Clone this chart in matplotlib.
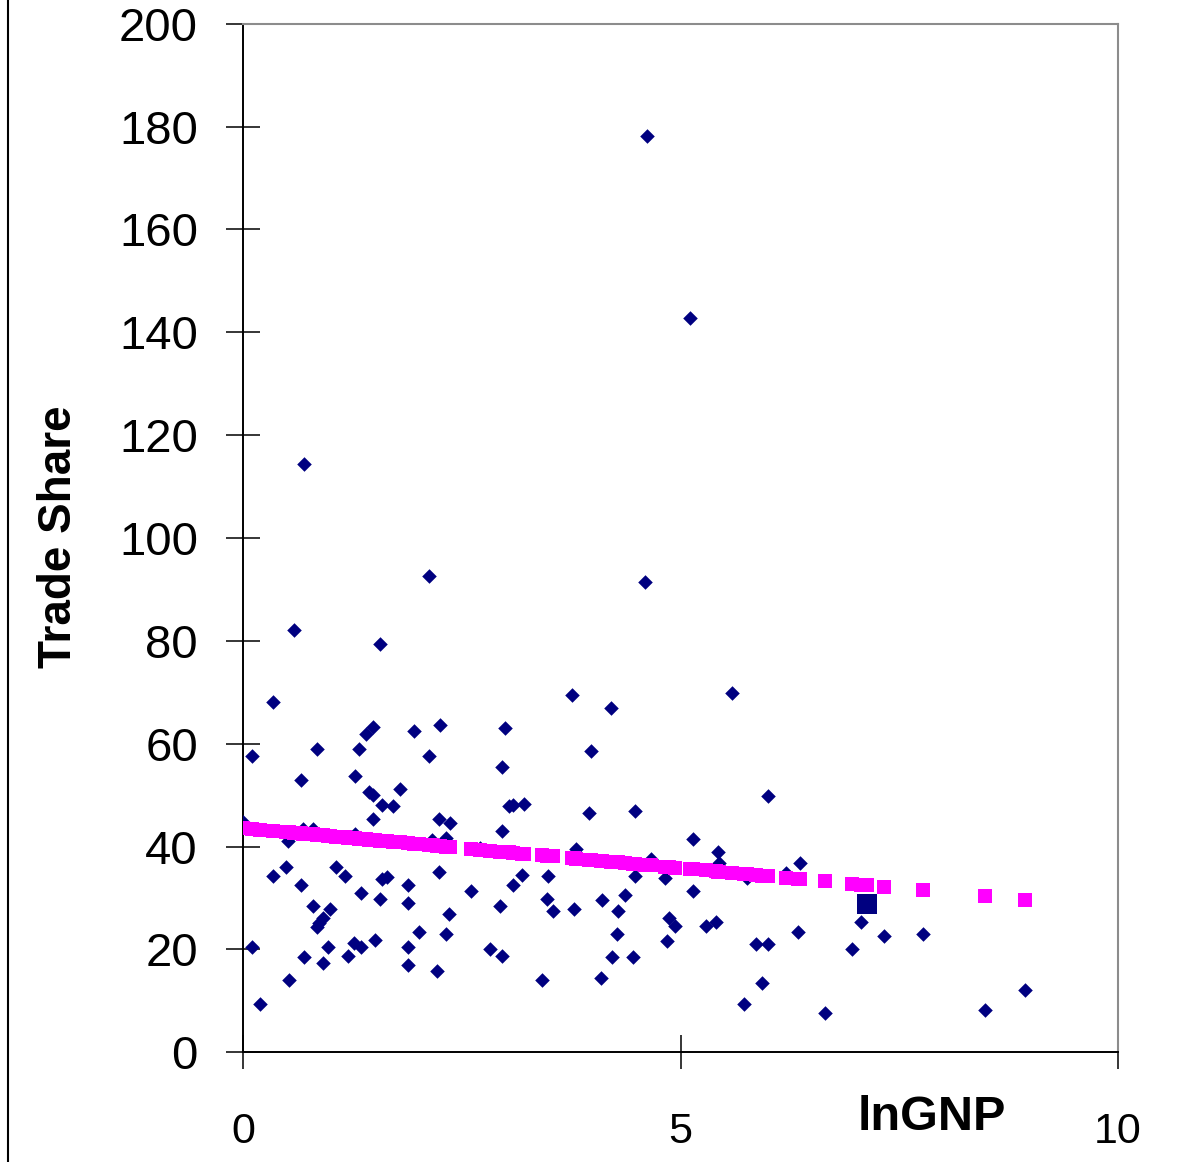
import numpy as np
import matplotlib
matplotlib.use("Agg")
import matplotlib.pyplot as plt
from matplotlib.lines import Line2D


# ====================================
# Data
# ====================================

ln_gnp = [
    0.34, 0.10, 0.84, 1.48, 1.41, 1.95, 2.25, 1.33, 2.12, 0.66,
    1.28, 1.44, 1.48, 1.79, 1.59, 1.71, 0.00, 1.48, 2.24, 2.36,
    0.69, 0.80, 1.28, 2.32, 2.16, 0.51, 0.34, 0.49, 0.66, 1.06,
    1.16, 2.24, 1.59, 1.65, 1.88, 1.35, 1.57, 1.88, 2.60, 0.80,
    0.99, 0.91, 0.84, 0.87, 2.35, 2.01, 2.32, 0.10, 0.97, 1.27,
    1.35, 1.51, 1.88, 0.70, 0.91, 1.20, 1.88, 2.22, 0.53, 0.19,
    3.76, 4.20, 2.99, 2.96, 3.98, 3.04, 3.09, 3.21, 3.95, 4.48,
    2.96, 5.14, 3.81, 2.71, 4.66, 3.19, 3.09, 3.49, 4.48, 4.82,
    5.14, 2.94, 3.47, 3.54, 3.78, 4.10, 4.37, 4.29, 4.87, 4.94,
    5.29, 4.27, 4.84, 2.82, 2.96, 4.22, 4.46, 3.42, 4.09, 5.59,
    6.00, 5.43, 5.44, 6.36, 5.76, 6.20, 5.40, 5.86, 6.00, 6.34,
    7.06, 7.33, 7.77, 6.96, 5.93, 5.72, 6.65, 8.94, 8.48, 0.70,
    2.12, 4.59, 0.58, 1.57, 4.62, 5.11
]

trade_share = [
    68.1, 57.6, 59.0, 63.3, 61.8, 62.4, 63.6, 59.0, 57.6, 53.0,
    53.7, 50.7, 50.0, 51.2, 48.0, 47.8, 44.8, 45.4, 45.4, 44.6,
    43.4, 43.4, 42.4, 41.7, 41.3, 41.1, 34.3, 36.0, 32.5, 36.0,
    34.3, 35.1, 33.7, 34.0, 32.5, 31.0, 29.8, 29.1, 31.4, 28.4,
    27.9, 26.2, 24.4, 25.2, 26.8, 23.4, 23.1, 20.4, 20.4, 21.3,
    20.4, 21.9, 20.4, 18.6, 17.4, 18.8, 16.9, 15.9, 14.0, 9.4,
    69.5, 67.0, 63.1, 55.5, 58.6, 47.8, 48.0, 48.3, 46.5, 46.9,
    43.1, 41.5, 39.5, 39.7, 37.6, 34.5, 32.5, 34.3, 34.3, 33.9,
    31.4, 28.4, 29.9, 27.5, 27.9, 29.6, 30.6, 27.5, 26.2, 24.5,
    24.5, 23.1, 21.6, 20.0, 18.8, 18.5, 18.5, 14.0, 14.4, 69.9,
    49.9, 39.0, 36.9, 36.8, 33.8, 34.8, 25.3, 21.1, 21.1, 23.4,
    25.3, 22.7, 23.1, 20.0, 13.5, 9.4, 7.6, 12.1, 8.2, 114.3,
    92.7, 91.5, 82.1, 79.4, 178.2, 142.8
]

# highlighted observation (large square)
highlight_x = [7.13]
highlight_y = [28.8]

x_ticks = [0, 5, 10]
y_ticks = [0, 20, 40, 60, 80, 100, 120, 140, 160, 180, 200]


# ====================================
# Fitted values (OLS on all points)
# ====================================

all_x = np.array(ln_gnp + highlight_x)
all_y = np.array(trade_share + highlight_y)

slope, intercept = np.polyfit(
    all_x,
    all_y,
    1
)

fitted = intercept + slope * all_x


# ====================================
# Figure
# ====================================

plt.rcParams["font.family"] = ["Liberation Sans", "DejaVu Sans"]

fig = plt.figure(
    figsize=(11.85, 11.62),
    dpi=100
)

ax = fig.add_axes(
    [0.2051, 0.0944, 0.7384, 0.8852]
)

ax.scatter(
    ln_gnp,
    trade_share,
    marker="D",
    s=55,
    color="#000080",
    linewidths=0,
    zorder=3
)

ax.scatter(
    all_x,
    fitted,
    marker="s",
    s=92,
    color="#FF00FF",
    linewidths=0,
    zorder=4
)

ax.scatter(
    highlight_x,
    highlight_y,
    marker="s",
    s=205,
    color="#000080",
    linewidths=0,
    zorder=5
)


# ====================================
# Axes styling
# ====================================

ax.set_xlim(0, 10)
ax.set_ylim(0, 200)

ax.set_xticks(x_ticks)
ax.set_yticks(y_ticks)

ax.spines["left"].set_color("black")
ax.spines["left"].set_linewidth(1.4)
ax.spines["bottom"].set_color("black")
ax.spines["bottom"].set_linewidth(1.4)
ax.spines["top"].set_color("#8c8c8c")
ax.spines["top"].set_linewidth(1.5)
ax.spines["right"].set_color("#8c8c8c")
ax.spines["right"].set_linewidth(1.5)

ax.tick_params(
    axis="y",
    direction="inout",
    length=25,
    width=1.1,
    labelsize=34,
    pad=20
)

ax.tick_params(
    axis="x",
    direction="inout",
    length=24,
    width=1.1,
    labelsize=31,
    pad=31
)

fig.text(
    59 / 1185,
    1 - 537 / 1162,
    "Trade Share",
    rotation=90,
    ha="center",
    va="center",
    fontsize=33,
    fontweight="bold"
)

fig.text(
    932 / 1185,
    1 - 1117 / 1162,
    "lnGNP",
    ha="center",
    va="center",
    fontsize=35,
    fontweight="bold"
)

# left frame line of the chart object
fig.add_artist(
    Line2D(
        [8 / 1185, 8 / 1185],
        [0, 1],
        color="black",
        linewidth=1.5
    )
)


plt.savefig("out.png", dpi=100)
